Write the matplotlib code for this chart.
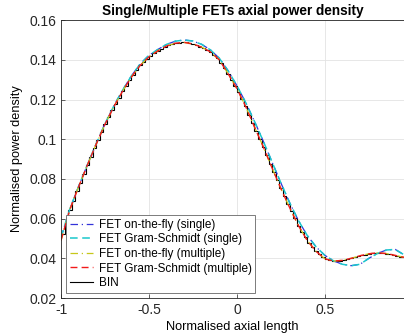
import numpy as np
import matplotlib
matplotlib.use("Agg")
import matplotlib.pyplot as plt
from matplotlib.lines import Line2D

plt.rcParams['font.family'] = ['Liberation Sans', 'DejaVu Sans']

# Smooth FET curves sampled every 0.05 from -1 to 0.95
x_fet = np.linspace(-1.0, 0.95, 40)
fet_multiple = [0.0490, 0.0645, 0.0760, 0.0870, 0.0975, 0.1075, 0.1163, 0.1242,
                0.1313, 0.1372, 0.1415, 0.1445, 0.1470, 0.1484, 0.1488, 0.1480,
                0.1464, 0.1440, 0.1400, 0.1330, 0.1255, 0.1165, 0.1062, 0.0962,
                0.0855, 0.0752, 0.0655, 0.0565, 0.0490, 0.0435, 0.0398, 0.0386,
                0.0390, 0.0400, 0.0413, 0.0423, 0.0428, 0.0424, 0.0415, 0.0405]
fet_single = [0.0505, 0.0648, 0.0762, 0.0871, 0.0977, 0.1078, 0.1167, 0.1247,
              0.1319, 0.1379, 0.1423, 0.1452, 0.1478, 0.1494, 0.1500, 0.1495,
              0.1478, 0.1450, 0.1408, 0.1345, 0.1270, 0.1185, 0.1090, 0.0990,
              0.0885, 0.0780, 0.0680, 0.0590, 0.0515, 0.0458, 0.0415, 0.0387,
              0.0370, 0.0363, 0.0370, 0.0400, 0.0425, 0.0442, 0.0445, 0.0418]

# BIN histogram values (100 bins across [-1, 1])
bin_lo, bin_hi = -1.0, 1.0
bin_values = [0.0521, 0.0583, 0.0645, 0.0691, 0.0737, 0.0782, 0.0826, 0.0870, 0.0912, 0.0954,
              0.0995, 0.1035, 0.1075, 0.1110, 0.1145, 0.1179, 0.1210, 0.1242, 0.1270, 0.1299,
              0.1325, 0.1348, 0.1372, 0.1389, 0.1406, 0.1421, 0.1433, 0.1445, 0.1455, 0.1465,
              0.1473, 0.1478, 0.1484, 0.1486, 0.1488, 0.1488, 0.1484, 0.1480, 0.1474, 0.1467,
              0.1460, 0.1450, 0.1440, 0.1424, 0.1408, 0.1386, 0.1358, 0.1330, 0.1300, 0.1270,
              0.1237, 0.1201, 0.1165, 0.1124, 0.1083, 0.1042, 0.1002, 0.0962, 0.0919, 0.0876,
              0.0834, 0.0793, 0.0752, 0.0713, 0.0674, 0.0637, 0.0601, 0.0565, 0.0535, 0.0505,
              0.0479, 0.0457, 0.0435, 0.0420, 0.0405, 0.0396, 0.0391, 0.0386, 0.0387, 0.0389,
              0.0392, 0.0396, 0.0400, 0.0405, 0.0410, 0.0415, 0.0419, 0.0423, 0.0425, 0.0427,
              0.0427, 0.0426, 0.0424, 0.0421, 0.0417, 0.0413, 0.0409, 0.0405, 0.0401, 0.0397]
bin_edges = np.linspace(bin_lo, bin_hi, len(bin_values) + 1)

labels = ["FET on-the-fly (single)", "FET Gram-Schmidt (single)",
          "FET on-the-fly (multiple)", "FET Gram-Schmidt (multiple)", "BIN"]
x_ticks = [-1, -0.5, 0, 0.5]
x_ticklabels = ["-1", "-0.5", "0", "0.5"]
y_ticks = [0.02, 0.04, 0.06, 0.08, 0.10, 0.12, 0.14, 0.16]
y_ticklabels = ["0.02", "0.04", "0.06", "0.08", "0.1", "0.12", "0.14", "0.16"]

fig = plt.figure(figsize=(4.04, 3.36), dpi=100)
ax = fig.add_axes([0.151, 0.113, 0.849, 0.827])

ax.plot(x_fet, fet_single, linestyle=(0, (6, 3, 1, 3)), color=(0.2, 0.2, 0.85), lw=0.9, label=labels[0])
ax.plot(x_fet, fet_single, linestyle=(0, (5, 3)), color=(0.1, 0.78, 0.8), lw=1.1, label=labels[1])
ax.plot(x_fet, fet_multiple, linestyle=(0, (6, 3, 1, 3)), color=(0.78, 0.78, 0.1), lw=0.9, label=labels[2])
ax.plot(x_fet, fet_multiple, linestyle=(0, (5, 3)), color=(0.95, 0.1, 0.1), lw=1.0, label=labels[3])
ax.stairs(bin_values, bin_edges, color='black', lw=0.8, label=labels[4], baseline=None)

ax.set_xlim(-1, 0.95)
ax.set_ylim(0.02, 0.16)
ax.set_xticks(x_ticks)
ax.set_xticklabels(x_ticklabels)
ax.set_yticks(y_ticks)
ax.set_yticklabels(y_ticklabels)
ax.tick_params(direction='in', length=3, labelsize=10, colors=(0.15, 0.15, 0.15), width=0.5)
ax.grid(True, color=(0.89, 0.89, 0.89), lw=0.6)
ax.set_axisbelow(True)
for s in ax.spines.values():
    s.set_color((0.15, 0.15, 0.15))
    s.set_linewidth(0.6)

ax.set_title("Single/Multiple FETs axial power density", fontsize=9.8, fontweight='bold', pad=4)
ax.set_xlabel("Normalised axial length", fontsize=9.2, labelpad=3)
ax.set_ylabel("Normalised power density", fontsize=9.2, labelpad=4)

handles, labs = ax.get_legend_handles_labels()
handles[4] = Line2D([], [], color='black', lw=0.8)
leg = ax.legend(handles, labs, loc='lower left', fontsize=8.5, frameon=True, fancybox=False,
                framealpha=1, edgecolor=(0.4, 0.4, 0.4), borderaxespad=0.45,
                handlelength=2.0, handletextpad=0.45, labelspacing=0.22, borderpad=0.3)
leg.get_frame().set_linewidth(0.6)

fig.savefig("out.png", dpi=100)
